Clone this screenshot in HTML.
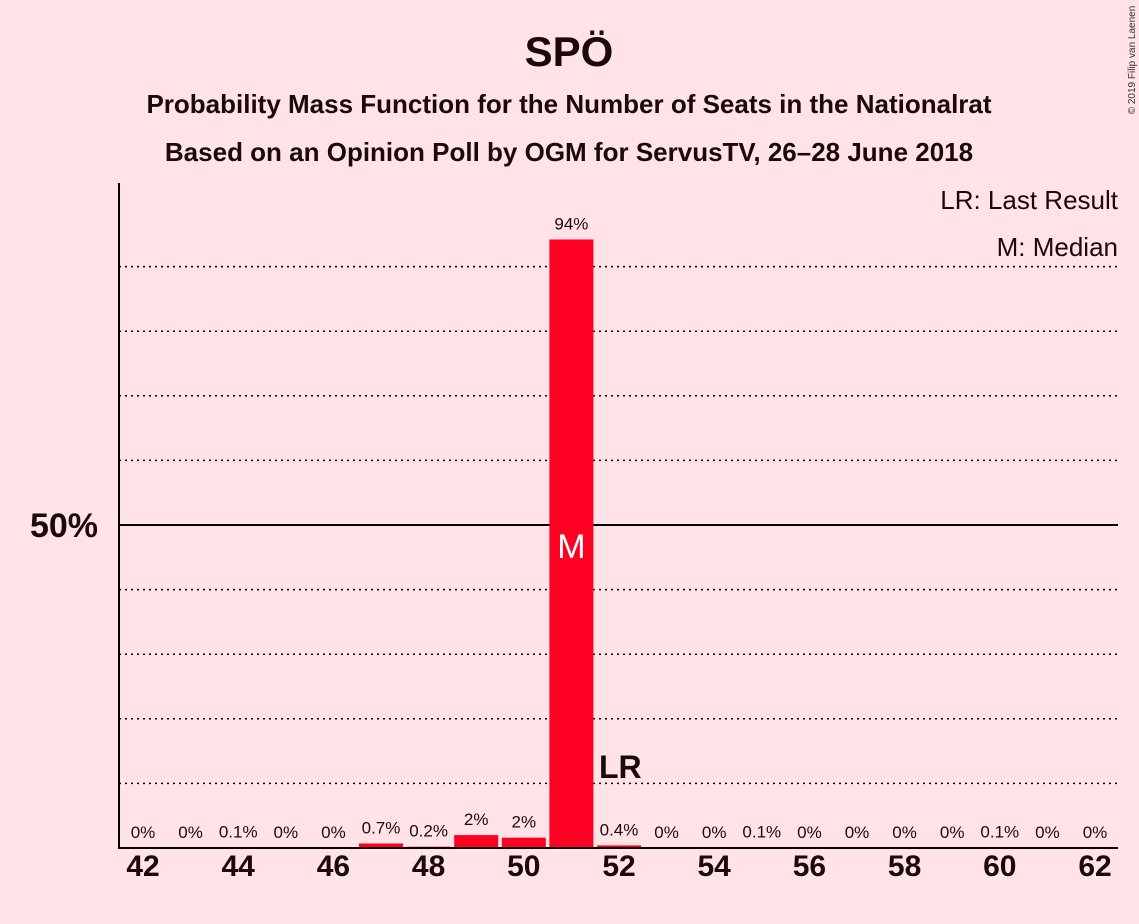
<!DOCTYPE html>
<html><head><meta charset="utf-8"><style>
body{margin:0;background:#ffe3e7;}
svg{display:block;font-family:"Liberation Sans",sans-serif;}
</style></head><body>
<svg id="c" width="1139" height="924">
<rect width="1139" height="924" fill="#ffe3e7"/>
<text x="569" y="66" text-anchor="middle" font-size="42" font-weight="bold" fill="#1a0a0a">SPÖ</text>
<text x="569" y="113" text-anchor="middle" font-size="26" font-weight="bold" fill="#1a0a0a">Probability Mass Function for the Number of Seats in the Nationalrat</text>
<text x="569" y="161" text-anchor="middle" font-size="26" font-weight="bold" fill="#1a0a0a">Based on an Opinion Poll by OGM for ServusTV, 26–28 June 2018</text>
<text x="1118" y="209" text-anchor="end" font-size="26" fill="#1a0a0a">LR: Last Result</text>
<text x="1118" y="256" text-anchor="end" font-size="26" fill="#1a0a0a">M: Median</text>
<text transform="translate(1135,60) rotate(-90)" text-anchor="middle" font-size="10" fill="#333">© 2019 Filip van Laenen</text>
<g id="grid"></g>
<g id="bars"></g>
<g id="labels"></g>
<line x1="119" y1="183" x2="119" y2="849" stroke="#000" stroke-width="2"/>
<line x1="118" y1="848" x2="1118" y2="848" stroke="#000" stroke-width="2"/>
<text x="98" y="537" text-anchor="end" font-size="34" font-weight="bold" fill="#1a0a0a">50%</text>
</svg>
<script>
const seats=[42,43,44,45,46,47,48,49,50,51,52,53,54,55,56,57,58,59,60,61,62];
const probs=[0,0,0.1,0,0,0.7,0.2,2.0,1.6,94.2,0.4,0,0,0.1,0,0,0,0,0.1,0,0];
const valueLabels=["0%","0%","0.1%","0%","0%","0.7%","0.2%","2%","2%","94%","0.4%","0%","0%","0.1%","0%","0%","0%","0%","0.1%","0%","0%"];
const gridPct=[10,20,30,40,50,60,70,80,90];
const medianSeat=51, lastResultSeat=52;
const NS="http://www.w3.org/2000/svg";
const x=s=>143+(s-42)*47.6;
const y=p=>848-p*6.46;
function mk(tag,attrs,parent,text){const e=document.createElementNS(NS,tag);for(const k in attrs)e.setAttribute(k,attrs[k]);if(text!==undefined)e.textContent=text;document.getElementById(parent).appendChild(e);return e;}
gridPct.forEach(p=>{
 const l=mk('line',{x1:119,x2:1118,y1:y(p),y2:y(p),stroke:'#000','stroke-width':p===50?2:1.5,'stroke-dasharray':p===50?'none':'2,4'},'grid');
 
 
});
seats.forEach((s,i)=>{
 const p=probs[i];
 if(p>0){
  const r=mk('rect',{x:x(s)-22,y:y(p),width:44,height:848-y(p),fill:'#ff0022'},'bars');
  
  
 }
 const t=mk('text',{x:x(s),y:Math.min(y(p),848)-10,'text-anchor':'middle','font-size':17,fill:'#1a0a0a'},'labels',valueLabels[i]);
 
 
 if(s%2===0){
  const xt=mk('text',{x:x(s),y:876,'text-anchor':'middle','font-size':30,'font-weight':'bold',fill:'#1a0a0a'},'labels',String(s));
  
  
 }
});
const m=mk('text',{x:x(medianSeat),y:558,'text-anchor':'middle','font-size':34,fill:'#fff'},'labels','M');


const lr=mk('text',{x:x(lastResultSeat)-20,y:778,'font-size':32,'font-weight':'bold',fill:'#1a0a0a'},'labels','LR');


</script>
</body></html>
